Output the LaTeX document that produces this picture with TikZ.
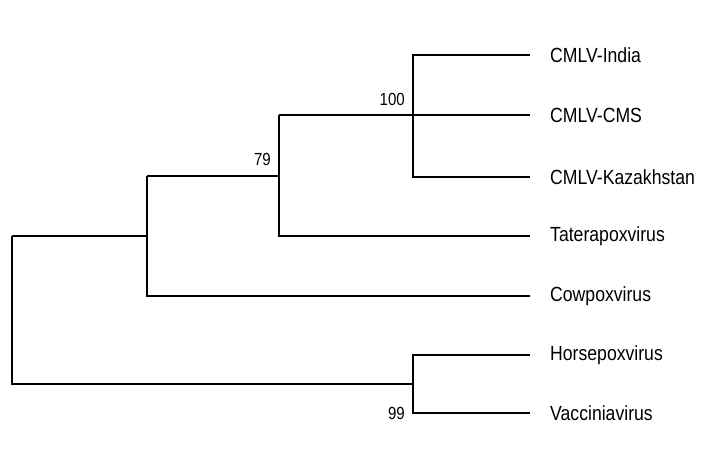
\documentclass[tikz,border=0pt]{standalone}
\usepackage{fontspec}
\setmainfont[FakeStretch=0.86]{Liberation Sans}
\tikzset{
  branch/.style={line width=1.1pt},
  leaf/.style={anchor=west, inner sep=0pt, font=\fontsize{20.5}{20.5}\selectfont},
  boot/.style={inner sep=0pt, font=\fontsize{17.5}{17.5}\selectfont}
}
\begin{document}
\begin{tikzpicture}[x=1pt,y=-1pt]
  \useasboundingbox (0,0) rectangle (727,456);
  % leaves
  \coordinate (tIndia) at (530,55);
  \coordinate (tCMS) at (530,115);
  \coordinate (tKaz) at (530,177);
  \coordinate (tTat) at (530,236);
  \coordinate (tCow) at (530,296);
  \coordinate (tHorse) at (530,355);
  \coordinate (tVacc) at (530,413);
  \node[leaf] (India) at (550,55) {CMLV-India};
  \node[leaf] (CMS) at (550,115) {CMLV-CMS};
  \node[leaf] (Kaz) at (550,177) {CMLV-Kazakhstan};
  \node[leaf] (Tat) at (550,236) {Taterapoxvirus};
  \node[leaf] (Cow) at (550,296) {Cowpoxvirus};
  \node[leaf] (Horse) at (550,355) {Horsepoxvirus};
  \node[leaf] (Vacc) at (550,413) {Vacciniavirus};
  % internal nodes
  \coordinate (n100) at (413,115);
  \coordinate (n79) at (279,176);
  \coordinate (nCow) at (147,236);
  \coordinate (n99) at (413,384);
  \coordinate (root) at (12,310);
  % clades
  \draw[branch] (tIndia) -| (n100) |- (tKaz);
  \draw[branch] (n100) -- (tCMS);
  \draw[branch] (n79 |- n100) -- (n100);
  \draw[branch] (n79 |- n100) |- (tTat);
  \draw[branch] (nCow |- n79) -- (n79);
  \draw[branch] (nCow |- n79) |- (tCow);
  \draw[branch] (tHorse) -| (n99) |- (tVacc);
  \draw[branch] (root |- nCow) -- (nCow);
  \draw[branch] (root |- nCow) |- (n99);
  % bootstrap values
  \node[boot, anchor=south east] (b100) at (405,106) {100};
  \node[boot, anchor=south east] (b79) at (271,166) {79};
  \node[boot, anchor=east] (b99) at (405,413) {99};
\end{tikzpicture}
\end{document}
